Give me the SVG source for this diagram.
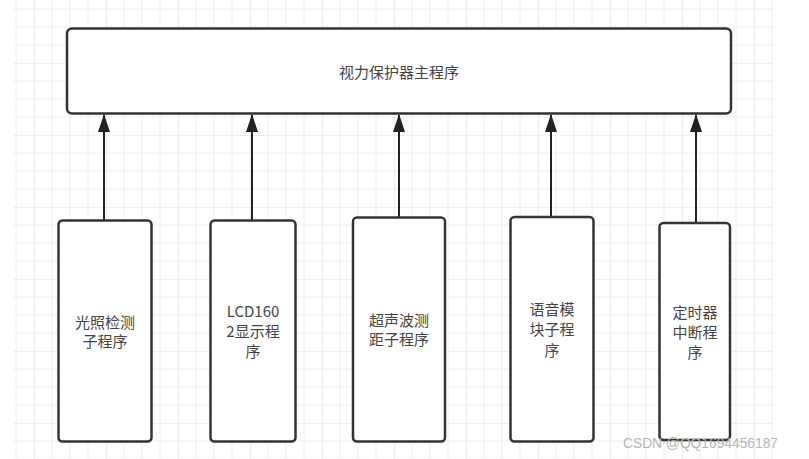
<svg xmlns="http://www.w3.org/2000/svg" width="809" height="459" viewBox="0 0 809 459">
<style>
.box{fill:#ffffff;stroke:#333333;stroke-width:2.5}
.lbl{font-family:"Noto Sans CJK SC","Noto Sans",sans-serif;font-size:15px;fill:#444444;text-anchor:middle}
.conn{stroke:#222222;stroke-width:2;fill:none}
.wm{font-family:"Liberation Sans",Arial,sans-serif;font-size:15px;fill:#b5b5b5}
</style>
<defs>
<pattern id="grid" x="-38" y="-9" width="72" height="72" patternUnits="userSpaceOnUse">
<path d="M18 0V72M36 0V72M54 0V72M0 18H72M0 36H72M0 54H72" stroke="#eeeeee" stroke-width="1" fill="none"/>
<path d="M0 0V72M0 0H72" stroke="#e0e0e0" stroke-width="1.2" fill="none"/>
</pattern>
<marker id="arr" viewBox="0 0 18 12" refX="17" refY="6" markerWidth="18" markerHeight="12" markerUnits="userSpaceOnUse" orient="auto">
<path d="M18 6L0 0L0 12Z" fill="#222222"/>
</marker>
</defs>
<rect width="809" height="459" fill="#ffffff"/>
<rect x="13" y="0" width="760" height="459" fill="url(#grid)"/>
<g id="main">
<rect class="box" x="67" y="28.5" width="664" height="85" rx="5"/>
<text class="lbl" x="399" y="78">视力保护器主程序</text>
</g>
<g id="connectors">
<line class="conn" x1="104" y1="220" x2="104" y2="115" marker-end="url(#arr)"/>
<line class="conn" x1="252" y1="220" x2="252" y2="115" marker-end="url(#arr)"/>
<line class="conn" x1="399" y1="217" x2="399" y2="115" marker-end="url(#arr)"/>
<line class="conn" x1="551" y1="217" x2="551" y2="115" marker-end="url(#arr)"/>
<line class="conn" x1="696" y1="222" x2="696" y2="115" marker-end="url(#arr)"/>
</g>
<g id="n1">
<rect class="box" x="58.5" y="220.5" width="93" height="221" rx="4"/>
<text class="lbl" x="105" y="328">光照检测</text>
<text class="lbl" x="105" y="347">子程序</text>
</g>
<g id="n2">
<rect class="box" x="210.5" y="220.5" width="85" height="221" rx="4"/>
<text class="lbl" x="253" y="317">LCD160</text>
<text class="lbl" x="253" y="337">2显示程</text>
<text class="lbl" x="253" y="357">序</text>
</g>
<g id="n3">
<rect class="box" x="353" y="217.5" width="92" height="224" rx="4"/>
<text class="lbl" x="399" y="326">超声波测</text>
<text class="lbl" x="399" y="345">距子程序</text>
</g>
<g id="n4">
<rect class="box" x="510.5" y="217" width="83" height="224.5" rx="4"/>
<text class="lbl" x="552" y="315">语音模</text>
<text class="lbl" x="552" y="335">块子程</text>
<text class="lbl" x="552" y="356">序</text>
</g>
<g id="n5">
<rect class="box" x="659.5" y="223" width="70.5" height="217" rx="4"/>
<text class="lbl" x="695" y="318">定时器</text>
<text class="lbl" x="695" y="338">中断程</text>
<text class="lbl" x="695" y="358">序</text>
</g>
<text class="wm" x="623" y="448" textLength="155" lengthAdjust="spacingAndGlyphs">CSDN @QQ1694456187</text>
</svg>
